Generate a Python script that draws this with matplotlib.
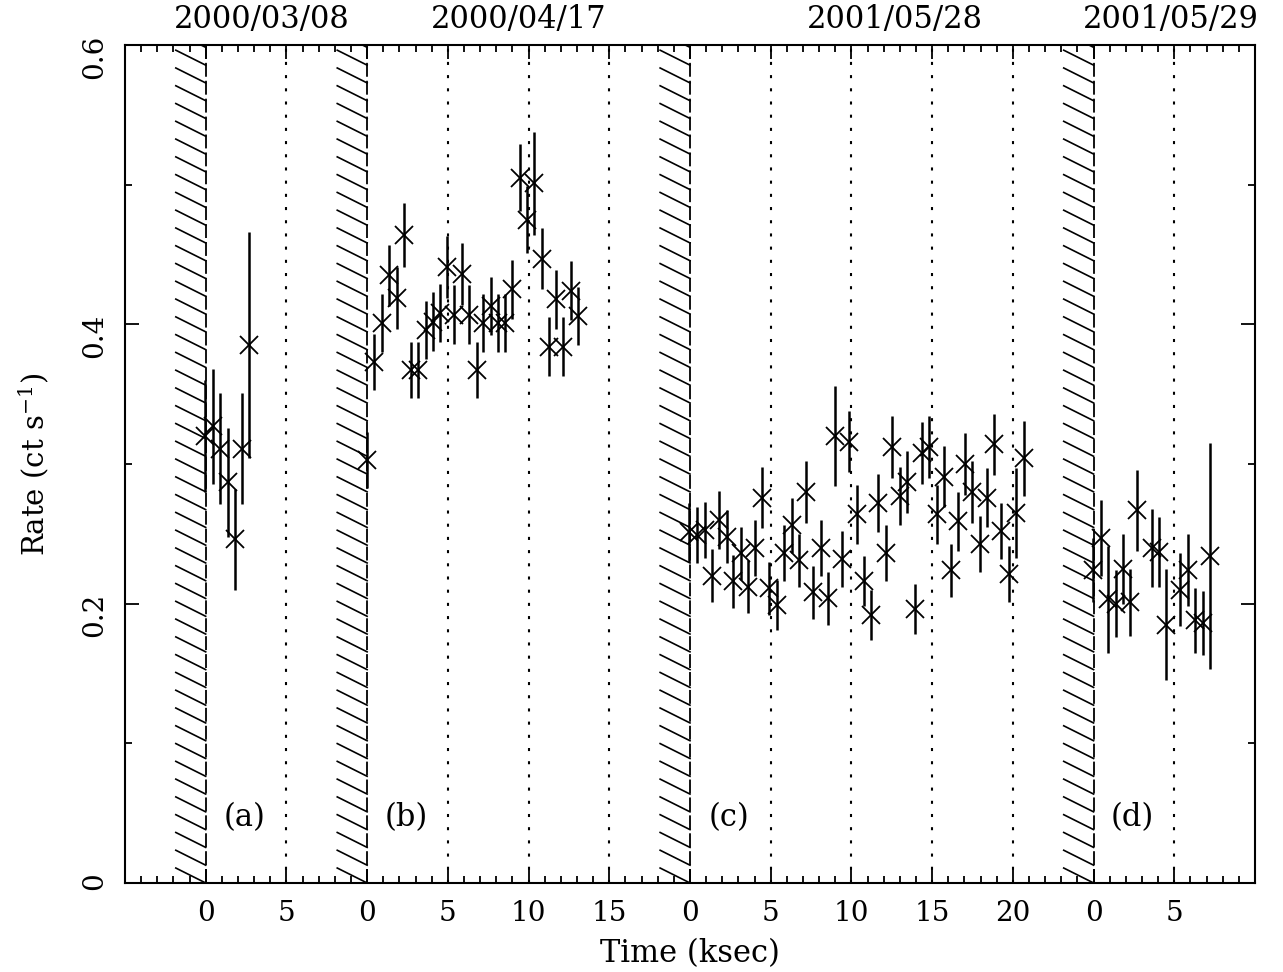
import numpy as np
import matplotlib.pyplot as plt
from matplotlib.ticker import MultipleLocator

plt.rcParams['font.family'] = 'DejaVu Serif'
plt.rcParams['mathtext.fontset'] = 'dejavuserif'
plt.rcParams['lines.scale_dashes'] = False

# light curves, time in ksec from start of each observation
t_a = [-0.06, 0.45, 0.87, 1.38, 1.80, 2.25, 2.68]
rate_a = [0.320, 0.327, 0.311, 0.287, 0.246, 0.311, 0.385]
err_a = [0.040, 0.041, 0.040, 0.039, 0.036, 0.040, 0.081]

t_b = [0.02, 0.45, 0.91, 1.38, 1.84, 2.29, 2.72, 3.17, 3.63, 4.07,
       4.52, 4.97, 5.40, 5.86, 6.33, 6.79, 7.20, 7.67, 8.11, 8.56,
       9.00, 9.47, 9.92, 10.36, 10.82, 11.28, 11.71, 12.16, 12.60, 13.08]
rate_b = [0.303, 0.373, 0.401, 0.435, 0.419, 0.464, 0.367, 0.367, 0.396, 0.402,
          0.408, 0.441, 0.407, 0.436, 0.407, 0.367, 0.401, 0.413, 0.401, 0.401,
          0.425, 0.505, 0.475, 0.501, 0.447, 0.384, 0.418, 0.384, 0.424, 0.406]
err_b = [0.020, 0.020, 0.021, 0.022, 0.022, 0.023, 0.020, 0.020, 0.021, 0.021,
         0.021, 0.022, 0.021, 0.022, 0.021, 0.020, 0.021, 0.021, 0.021, 0.021,
         0.021, 0.024, 0.024, 0.037, 0.022, 0.021, 0.021, 0.021, 0.021, 0.021]

t_c = [-0.04, 0.45, 0.93, 1.34, 1.79, 2.27, 2.68, 3.16, 3.57, 4.02,
       4.48, 4.91, 5.36, 5.82, 6.29, 6.75, 7.18, 7.63, 8.09, 8.52,
       8.97, 9.43, 9.86, 10.32, 10.77, 11.20, 11.65, 12.13, 12.54, 13.00,
       13.45, 13.92, 14.38, 14.81, 15.27, 15.72, 16.15, 16.60, 17.06, 17.49,
       17.95, 18.40, 18.83, 19.29, 19.74, 20.22, 20.67]
rate_c = [0.251, 0.249, 0.253, 0.220, 0.260, 0.248, 0.216, 0.236, 0.212, 0.240,
          0.276, 0.211, 0.199, 0.236, 0.256, 0.231, 0.280, 0.208, 0.240, 0.204,
          0.320, 0.232, 0.316, 0.264, 0.216, 0.192, 0.272, 0.236, 0.312, 0.277,
          0.287, 0.196, 0.308, 0.312, 0.264, 0.291, 0.224, 0.259, 0.300, 0.280,
          0.243, 0.276, 0.314, 0.252, 0.221, 0.265, 0.304]
err_c = [0.021, 0.020, 0.020, 0.019, 0.021, 0.019, 0.019, 0.019, 0.019, 0.020,
         0.022, 0.019, 0.018, 0.020, 0.020, 0.019, 0.022, 0.019, 0.020, 0.019,
         0.036, 0.020, 0.022, 0.021, 0.018, 0.018, 0.021, 0.020, 0.022, 0.021,
         0.022, 0.018, 0.022, 0.022, 0.021, 0.022, 0.019, 0.021, 0.022, 0.022,
         0.020, 0.021, 0.022, 0.020, 0.020, 0.032, 0.027]

t_d = [-0.02, 0.43, 0.91, 1.36, 1.81, 2.25, 2.71, 3.59, 4.04, 4.50,
       5.38, 5.84, 6.31, 6.76, 7.20]
rate_d = [0.224, 0.247, 0.203, 0.200, 0.225, 0.201, 0.267, 0.240, 0.237, 0.185,
          0.210, 0.224, 0.188, 0.186, 0.234]
err_d = [0.023, 0.027, 0.038, 0.024, 0.025, 0.024, 0.029, 0.028, 0.025, 0.040,
         0.026, 0.026, 0.023, 0.023, 0.081]

panels = ['(a)', '(b)', '(c)', '(d)']
dates = ['2000/03/08', '2000/04/17', '2001/05/28', '2001/05/29']
offsets = [5, 15, 35, 60]      # where each observation's t=0 sits on the axis
date_x = [3.5, 9.4, 12.7, 4.8]  # date label position, local ksec
x_end = 70
gap = 1.85                      # width of hatched gap before each t=0

series = [(t_a, rate_a, err_a), (t_b, rate_b, err_b),
          (t_c, rate_c, err_c), (t_d, rate_d, err_d)]

fig = plt.figure(figsize=(12.83, 9.72), dpi=100)
ax = fig.add_axes([0.0974, 0.0916, 0.8808, 0.8621])
ax.set_xlim(0, x_end)
ax.set_ylim(0, 0.6)

major_pos = []
major_lab = []
ends = offsets[1:] + [x_end]
for i, off in enumerate(offsets):
    t, r, e = series[i]
    ax.errorbar(np.array(t) + off, r, yerr=e, fmt='x', color='k', ms=13,
                mew=1.3, elinewidth=1.8, capsize=0)

    # hatched gap
    hy = np.arange(0, 0.62, 0.01273)
    for y0 in hy:
        ax.plot([off - gap, off], [y0 + 0.0107, y0], color='k', lw=1.2)
    ax.plot([off, off], [0, 0.6], color='k', lw=1.3, dashes=(10, 2.9))

    k = 0
    while off + 5 * k < ends[i]:
        major_pos.append(off + 5 * k)
        major_lab.append(str(5 * k))
        if k > 0:
            ax.axvline(off + 5 * k, color='k', lw=1.5, dashes=(2.2, 7.3))
        k += 1

    ax.text(off + 2.4, 0.0465, panels[i], ha='center', va='center', fontsize=22)
    ax.text(off + date_x[i], 1.012, dates[i], transform=ax.get_xaxis_transform(),
            ha='center', va='bottom', fontsize=22)

ax.set_xticks(major_pos, major_lab)
ax.xaxis.set_minor_locator(MultipleLocator(1))
ax.set_yticks([0, 0.2, 0.4, 0.6], ['0', '0.2', '0.4', '0.6'])
ax.yaxis.set_minor_locator(MultipleLocator(0.1))
ax.tick_params(which='both', direction='in', top=True, right=True,
               width=1.3, labelsize=20, pad=12)
ax.tick_params(which='major', length=10)
ax.tick_params(which='minor', length=5)
ax.tick_params(axis='y', labelrotation=90)
for s in ax.spines.values():
    s.set_linewidth(1.5)

ax.set_xlabel('Time (ksec)', fontsize=22, labelpad=8)
ax.set_ylabel(r'Rate (ct s$^{-1}$)', fontsize=21, labelpad=22)

fig.savefig('out.png', dpi=100)
